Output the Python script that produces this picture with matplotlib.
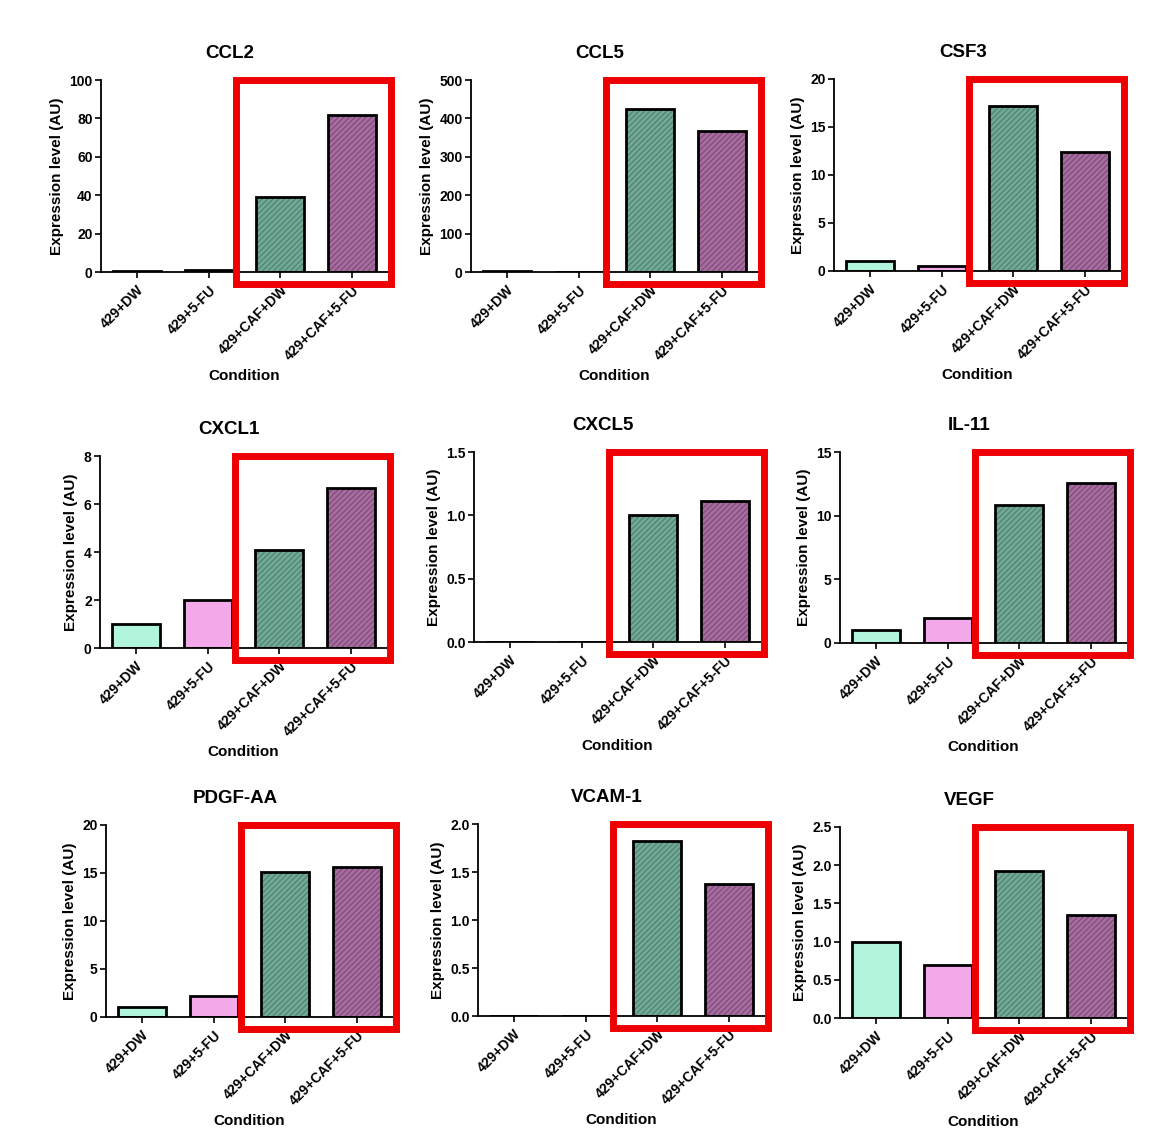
import matplotlib
matplotlib.use("Agg")
import matplotlib.pyplot as plt
from matplotlib.patches import Rectangle
import numpy as np

plt.rcParams['font.family'] = ['Liberation Sans', 'DejaVu Sans']
plt.rcParams['font.weight'] = 'bold'
plt.rcParams['hatch.linewidth'] = 0.7

conditions = ["429+DW", "429+5-FU", "429+CAF+DW", "429+CAF+5-FU"]

genes = ["CCL2", "CCL5", "CSF3", "CXCL1", "CXCL5", "IL-11", "PDGF-AA", "VCAM-1", "VEGF"]

ccl2 = [0.3, 1.2, 39.0, 82.0]
ccl5 = [2.0, 0.0, 425.0, 368.0]
csf3 = [1.0, 0.5, 17.2, 12.4]
cxcl1 = [1.0, 2.0, 4.1, 6.65]
cxcl5 = [0.0, 0.0, 1.0, 1.11]
il11 = [1.0, 2.0, 10.8, 12.6]
pdgfaa = [1.0, 2.2, 15.1, 15.6]
vcam1 = [0.0, 0.0, 1.82, 1.38]
vegf = [1.0, 0.7, 1.93, 1.35]

values = [ccl2, ccl5, csf3, cxcl1, cxcl5, il11, pdgfaa, vcam1, vegf]
y_max = [100, 500, 20, 8, 1.5, 15, 20, 2.0, 2.5]
y_step = [20, 100, 5, 2, 0.5, 5, 5, 0.5, 0.5]
y_fmt = ["{:.0f}", "{:.0f}", "{:.0f}", "{:.0f}", "{:.1f}", "{:.0f}", "{:.0f}", "{:.1f}", "{:.1f}"]

# layout (pixels): left of y-axis, top (ymax) and bottom (0) of axes
W, H = 1158, 1141
lefts = [101, 471, 834, 100, 474, 840, 106, 478, 840]
tops = [80, 80, 79, 456, 452, 452, 825, 824, 827]
bottoms = [272, 272, 271, 648, 642, 643, 1017, 1016, 1018]
ax_w = 287

face_colors = ["#b2f5dd", "#f3a8ea", "#72a897", "#a56d9f"]
hatch_colors = [None, None, "#4a7a6a", "#774570"]

fig = plt.figure(figsize=(W / 100, H / 100), dpi=100)

for i, g in enumerate(genes):
    L, T, B = lefts[i], tops[i], bottoms[i]
    ax = fig.add_axes([L / W, 1 - B / H, ax_w / W, (B - T) / H])
    x = np.arange(len(conditions))
    for j in range(len(conditions)):
        v = values[i][j]
        if hatch_colors[j] is not None:
            ax.bar(x[j], v, width=0.67, color=face_colors[j], edgecolor=hatch_colors[j],
                   hatch="//////", linewidth=0, zorder=2)
            ax.bar(x[j], v, width=0.67, fill=False, edgecolor="black", linewidth=2, zorder=3)
        else:
            ax.bar(x[j], v, width=0.67, color=face_colors[j], edgecolor="black",
                   linewidth=2, zorder=3)
    ax.set_xlim(-0.5, 3.5)
    ax.set_ylim(0, y_max[i])
    ticks = np.arange(0, y_max[i] + y_step[i] / 2, y_step[i])
    ax.set_yticks(ticks)
    ax.set_yticklabels([y_fmt[i].format(t) for t in ticks], fontsize=10, fontweight='bold')
    ax.set_xticks(x)
    ax.set_xticklabels(conditions, rotation=45, ha='right', rotation_mode='anchor',
                       fontsize=10, fontweight='bold')
    for s in ["top", "right"]:
        ax.spines[s].set_visible(False)
    for s in ["left", "bottom"]:
        ax.spines[s].set_linewidth(1.3)
        ax.spines[s].set_zorder(4)
    ax.tick_params(axis='y', width=1.2, length=4, direction='out', pad=2)
    ax.tick_params(axis='x', width=1.2, length=4, direction='out', pad=4)
    ax.set_ylabel("Expression level (AU)", fontsize=11, fontweight='bold', labelpad=4)
    ax.set_xlabel("Condition", fontsize=11, fontweight='bold', labelpad=4)
    ax.set_title(g, fontsize=13.5, fontweight='bold', pad=16, x=0.45)
    ym = y_max[i]
    rect = Rectangle((1.38, -0.063 * ym), 3.54 - 1.38, 1.063 * ym, fill=False,
                     edgecolor="#ee0000", linewidth=5, clip_on=False, zorder=6,
                     transform=ax.transData)
    ax.add_patch(rect)

fig.savefig("out.png", dpi=100, facecolor="white")
